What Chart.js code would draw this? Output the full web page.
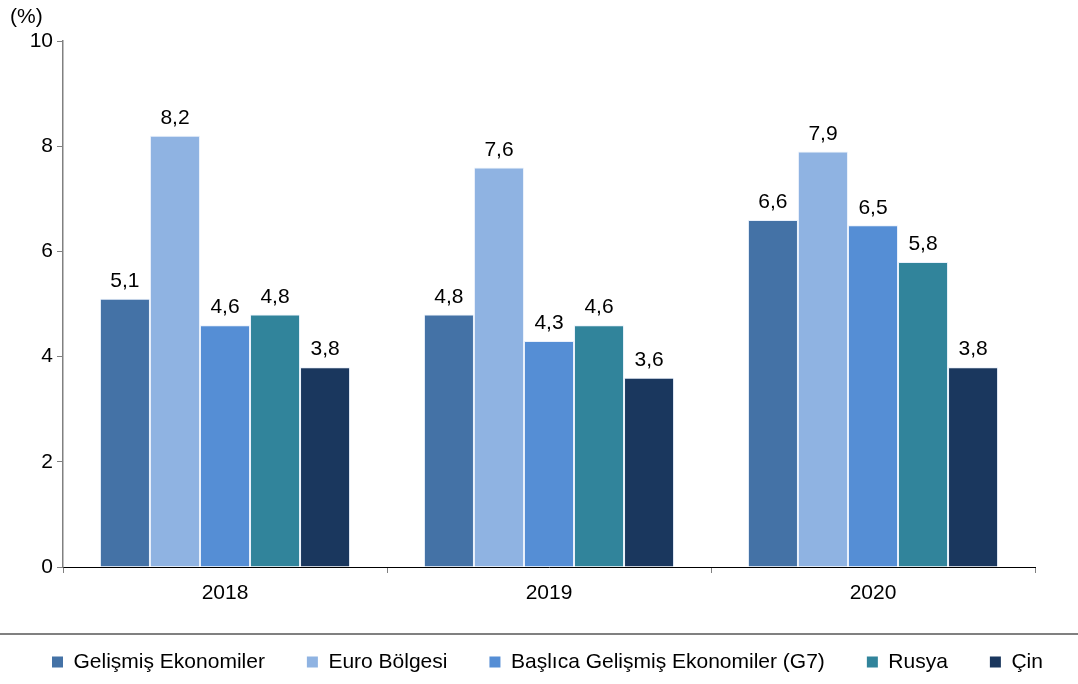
<!DOCTYPE html>
<html>
<head>
<meta charset="utf-8">
<script src="https://cdn.jsdelivr.net/npm/chart.js@4/dist/chart.umd.min.js"></script>
<style>
html,body{margin:0;padding:0;background:#fff;}
#c{display:block;}
</style>
</head>
<body>
<canvas id="c" width="1078" height="684"></canvas>
<script>
const categories = ['2018', '2019', '2020'];
const seriesNames = ['Gelişmiş Ekonomiler', 'Euro Bölgesi', 'Başlıca Gelişmiş Ekonomiler (G7)', 'Rusya', 'Çin'];
const gelismis = [5.1, 4.8, 6.6];
const euro = [8.2, 7.6, 7.9];
const g7 = [4.6, 4.3, 6.5];
const rusya = [4.8, 4.6, 5.8];
const cin = [3.8, 3.6, 3.8];
const colors = ['#4472a6', '#8fb3e2', '#558ed5', '#31849b', '#1a375e'];
const yTicks = [0, 2, 4, 6, 8, 10];
const unitLabel = '(%)';

const FONT = "'Liberation Sans', Arial, sans-serif";
const allSeries = [gelismis, euro, g7, rusya, cin];

const dataLabels = {
  id: 'dataLabels',
  afterDatasetsDraw(chart) {
    const ctx = chart.ctx;
    ctx.save();
    ctx.font = '21px ' + FONT;
    ctx.fillStyle = '#000';
    ctx.textAlign = 'center';
    ctx.textBaseline = 'bottom';
    chart.data.datasets.forEach((ds, i) => {
      const meta = chart.getDatasetMeta(i);
      meta.data.forEach((el, j) => {
        const v = ds.data[j];
        ctx.fillText(v.toFixed(1).replace('.', ','), el.x, el.y - 7);
      });
    });
    ctx.restore();
  }
};

const separator = {
  id: 'separator',
  afterDraw(chart) {
    const ctx = chart.ctx;
    ctx.save();
    ctx.strokeStyle = '#808080';
    ctx.lineWidth = 2;
    ctx.beginPath();
    ctx.moveTo(0, 634);
    ctx.lineTo(chart.width, 634);
    ctx.stroke();
    ctx.restore();
  }
};

const legendFit = {
  id: 'legendFit',
  beforeInit(chart) {
    const orig = chart.legend.fit;
    chart.legend.fit = function () {
      this.maxWidth = 2000;
      orig.call(this);
      this.height = 74.5;
    };
  },
  afterLayout(chart) {
    chart.legend.right = 2000;
  }
};

new Chart(document.getElementById('c'), {
  type: 'bar',
  data: {
    labels: categories,
    datasets: seriesNames.map((name, i) => ({
      label: name,
      data: allSeries[i],
      backgroundColor: colors[i],
      borderColor: 'rgba(220,232,248,0.6)',
      borderWidth: 1,
      categoryPercentage: 0.772,
      barPercentage: 1
    }))
  },
  options: {
    responsive: false,
    animation: false,
    devicePixelRatio: 1,
    layout: { padding: { left: 10, right: 43, top: 0, bottom: 0 } },
    plugins: {
      tooltip: { enabled: false },
      title: {
        display: true,
        text: unitLabel,
        align: 'start',
        color: '#000',
        font: { family: FONT, size: 21, weight: 'normal' },
        padding: { top: 5, bottom: 11 }
      },
      legend: {
        position: 'bottom',
        align: 'start',
        labels: {
          color: '#000',
          font: { family: FONT, size: 21 },
          boxWidth: 11,
          boxHeight: 11,
          padding: 42,
          generateLabels(chart) {
            return chart.data.datasets.map((ds, i) => ({
              text: ds.label,
              fillStyle: colors[i],
              strokeStyle: colors[i],
              lineWidth: 0,
              hidden: false,
              datasetIndex: i,
              fontColor: '#000'
            }));
          }
        }
      }
    },
    scales: {
      x: {
        offset: true,
        border: { color: '#000', width: 1 },
        grid: { display: true, drawOnChartArea: false, drawTicks: true, tickLength: 6, color: '#808080', offset: true },
        ticks: { color: '#000', font: { family: FONT, size: 21 }, padding: 8 },
        afterFit(scale) { scale.height = 42.5; }
      },
      y: {
        min: 0,
        max: 10,
        border: { color: '#808080', width: 1.5 },
        grid: { display: true, drawOnChartArea: false, drawTicks: true, tickLength: 6, color: '#808080' },
        ticks: {
          color: '#000',
          font: { family: FONT, size: 21 },
          padding: 4,
          stepSize: 2,
          callback: (v) => yTicks.includes(v) ? String(v) : ''
        },
        afterFit(scale) { scale.width = 53; }
      }
    }
  },
  plugins: [dataLabels, separator, legendFit]
});
</script>
</body>
</html>
